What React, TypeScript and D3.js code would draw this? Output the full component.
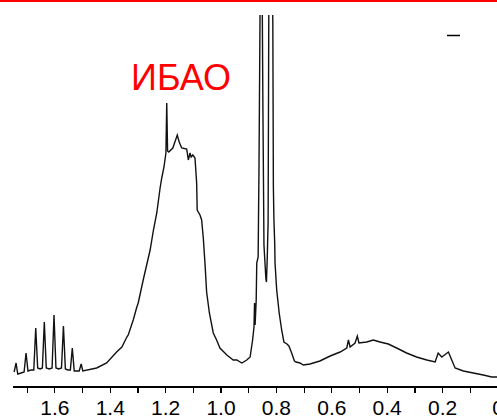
import * as d3 from "d3";

const width = 497;
const height = 419;
const axisY = 387;
const plotTop = 15;

// chemical shift (ppm) / intensity (arb. units)
const multiplet: [number, number][] = [
  [1.747, 15], [1.74, 24], [1.734, 13], [1.722, 14], [1.711, 15], [1.704, 34],
  [1.697, 16], [1.686, 17], [1.676, 17], [1.669, 59], [1.662, 19], [1.653, 18],
  [1.645, 19], [1.638, 65], [1.631, 19], [1.62, 18], [1.61, 19], [1.603, 72],
  [1.596, 19], [1.586, 18], [1.576, 19], [1.569, 61], [1.562, 18], [1.553, 17],
  [1.544, 17], [1.537, 39], [1.53, 16], [1.52, 16], [1.512, 16], [1.505, 23],
  [1.499, 16],
];

const mainBand: [number, number][] = [
  [1.449, 19], [1.413, 24], [1.377, 35], [1.358, 40], [1.34, 50], [1.335, 52],
  [1.317, 67], [1.304, 80], [1.299, 84], [1.281, 107], [1.256, 137], [1.244, 157],
  [1.232, 174], [1.22, 199], [1.214, 209], [1.206, 220], [1.199, 234], [1.196, 284],
  [1.193, 236], [1.189, 235], [1.174, 239], [1.158, 252], [1.151, 245], [1.142, 239],
  [1.124, 238], [1.118, 227], [1.112, 234], [1.108, 230], [1.102, 232], [1.094, 229],
  [1.088, 204], [1.086, 177], [1.076, 172], [1.07, 167], [1.064, 149], [1.058, 124],
  [1.052, 95], [1.042, 74], [1.028, 54], [1.016, 47], [1.004, 39], [0.979, 32],
  [0.956, 27], [0.943, 27], [0.925, 24], [0.907, 27], [0.895, 30],
];

const methylPeaks: [number, number][] = [
  [0.886, 47], [0.881, 60], [0.879, 84], [0.877, 62], [0.873, 87], [0.871, 124],
  [0.866, 130], [0.863, 217], [0.858, 420], [0.852, 420], [0.849, 287], [0.845, 142],
  [0.838, 108], [0.836, 105], [0.833, 130], [0.83, 165], [0.827, 420], [0.816, 420],
  [0.813, 365], [0.811, 200], [0.809, 167], [0.806, 142], [0.805, 124], [0.799, 97],
  [0.79, 74], [0.781, 57], [0.773, 45], [0.762, 43], [0.755, 41], [0.745, 34],
  [0.735, 26], [0.729, 25], [0.715, 24],
];

const tail: [number, number][] = [
  [0.703, 22], [0.679, 23], [0.643, 26], [0.606, 31], [0.57, 35], [0.546, 39],
  [0.54, 47], [0.534, 40], [0.516, 44], [0.508, 51], [0.502, 44], [0.474, 45],
  [0.45, 47], [0.426, 45], [0.396, 43], [0.366, 39], [0.33, 34], [0.294, 30],
  [0.257, 27], [0.227, 25], [0.216, 34], [0.203, 30], [0.179, 35], [0.167, 27],
  [0.155, 19], [0.125, 16], [0.089, 14], [0.053, 12], [0.023, 10], [0, 10],
];

const tickValues = d3.range(0, 18).map((i) => i / 10);
const labelValues = [1.6, 1.4, 1.2, 1.0, 0.8, 0.6, 0.4, 0.2, 0];

const x = d3.scaleLinear().domain([1.75, 0]).range([13.3, 498]);
const y = d3.scaleLinear().domain([0, 372]).range([axisY, plotTop]);

const spectrum = [...multiplet, ...mainBand, ...methylPeaks, ...tail];

const line = d3
  .line<[number, number]>()
  .x((d) => x(d[0]))
  .y((d) => y(d[1]));

const font = "'Liberation Sans', Arial, sans-serif";

export default function App() {
  return (
    <svg
      width={width}
      height={height}
      style={{ position: "absolute", left: 0, top: 0, background: "#fff" }}
    >
      <defs>
        <clipPath id="plot">
          <rect x={0} y={plotTop} width={width} height={axisY - plotTop} />
        </clipPath>
      </defs>
      <rect x={0} y={0} width={width} height={2} fill="#ff0000" />

      <path
        d={line(spectrum) ?? ""}
        fill="none"
        stroke="#111"
        strokeWidth={1.4}
        strokeLinejoin="miter"
        clipPath="url(#plot)"
      />

      {/* small stray mark in the upper right */}
      <line x1={447} x2={460} y1={35.5} y2={35.5} stroke="#000" strokeWidth={1.5} />

      <text
        x={131}
        y={90}
        fill="#ff0000"
        fontSize={36}
        fontFamily={font}
      >
        ИБАО
      </text>

      <g shapeRendering="crispEdges">
        <line x1={x(1.75)} x2={width} y1={axisY} y2={axisY} stroke="#000" strokeWidth={1.5} />
        {tickValues.map((t) => (
          <line
            key={t}
            x1={x(t)}
            x2={x(t)}
            y1={axisY}
            y2={axisY + 6}
            stroke="#000"
            strokeWidth={1.2}
          />
        ))}
      </g>
      {labelValues.map((t) => (
        <text
          key={t}
          x={x(t)}
          y={415}
          textAnchor="middle"
          fontSize={21}
          fontFamily={font}
          fill="#000"
        >
          {t === 0 ? "0" : d3.format(".1f")(t)}
        </text>
      ))}
    </svg>
  );
}
